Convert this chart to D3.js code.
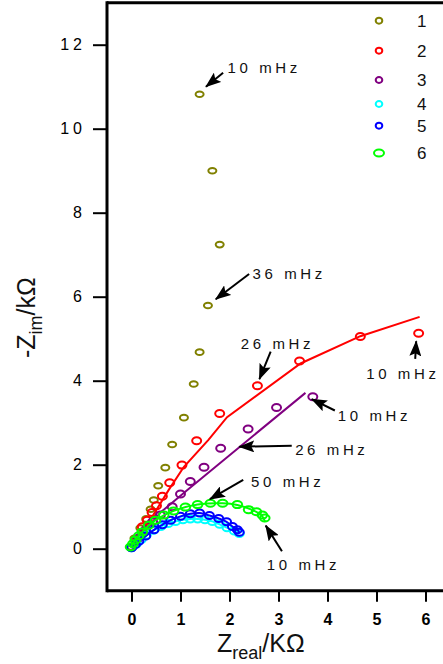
<!DOCTYPE html>
<html>
<head>
<meta charset="utf-8">
<script src="https://cdn.jsdelivr.net/npm/d3@7"></script>
<style>
body { margin: 0; background: #fff; }
svg { display: block; font-family: "Liberation Sans", Arial, sans-serif; }
</style>
</head>
<body>
<div id="chart"></div>
<script>
'use strict';

// legend / series
const seriesNames  = ['1', '2', '3', '4', '5', '6'];
const seriesColors = ['#808000', '#ff0000', '#800080', '#00ffff', '#0000ff', '#00ff00'];

// measured points [Zreal, -Zim] in kOhm
const s1Points = [[0, 0.04], [0.06, 0.25], [0.18, 0.49], [0.30, 0.71], [0.39, 0.94], [0.455, 1.16],
    [0.545, 1.5], [0.69, 1.93], [0.83, 2.48], [1.07, 3.12], [1.27, 3.92], [1.39, 4.68],
    [1.56, 5.79], [1.80, 7.24], [1.65, 9.0], [1.39, 10.82]];
const s2Points = [[0, 0.03], [0.1, 0.22], [0.22, 0.52], [0.32, 0.68], [0.42, 0.86], [0.51, 1.02],
    [0.63, 1.25], [0.78, 1.57], [1.03, 1.99], [1.33, 2.57], [1.80, 3.22], [2.57, 3.88],
    [3.43, 4.47], [4.67, 5.05], [5.86, 5.13]];
const s2Fit = [[0, 0.02], [0.2, 0.4], [0.39, 0.70], [0.76, 1.40], [1.07, 1.95], [1.57, 2.59],
    [1.95, 3.13], [3.45, 4.41], [4.67, 5.06], [5.88, 5.52]];
const s3Points = [[0, 0.03], [0.14, 0.25], [0.29, 0.45], [0.43, 0.64], [0.59, 0.80], [0.83, 1.0],
    [1.0, 1.30], [1.20, 1.60], [1.48, 1.94], [1.82, 2.39], [2.38, 2.85], [2.96, 3.36], [3.70, 3.62]];
const s3Fit = [[0, 0.02], [0.15, 0.25], [0.35, 0.52], [0.59, 0.86], [1.14, 1.40], [3.55, 3.71]];
const s4Points = [[0, 0.02], [0.1, 0.12], [0.2, 0.22], [0.3, 0.32], [0.45, 0.44], [0.6, 0.53],
    [0.75, 0.60], [0.9, 0.65], [1.05, 0.69], [1.2, 0.71], [1.35, 0.71], [1.5, 0.69],
    [1.65, 0.65], [1.8, 0.58], [1.95, 0.50], [2.1, 0.42], [2.2, 0.36]];
const s5Points = [[0, 0.02], [0.08, 0.1], [0.15, 0.18], [0.29, 0.30], [0.46, 0.45], [0.63, 0.57],
    [0.8, 0.68], [1.0, 0.77], [1.2, 0.83], [1.39, 0.85], [1.59, 0.79], [1.78, 0.72],
    [1.94, 0.64], [2.06, 0.53], [2.16, 0.45], [2.2, 0.39]];
const s6Points = [[-0.02, 0.04], [0.03, 0.12], [0.08, 0.21], [0.15, 0.31], [0.22, 0.40], [0.35, 0.56],
    [0.49, 0.68], [0.66, 0.80], [0.86, 0.90], [1.10, 0.99], [1.35, 1.05], [1.61, 1.08],
    [1.86, 1.08], [2.16, 1.05], [2.39, 0.93], [2.55, 0.88], [2.67, 0.80], [2.72, 0.73]];
const s6Fit = [[-0.02, 0.04], [0.08, 0.21], [0.22, 0.40], [0.49, 0.68], [0.86, 0.90], [1.35, 1.05],
    [1.86, 1.08], [2.16, 1.04], [2.45, 0.93], [2.65, 0.80], [2.73, 0.64]];

// axis ticks
const xMajor = [0, 1, 2, 3, 4, 5, 6];
const xMinor = [-0.5, 0.5, 1.5, 2.5, 3.5, 4.5, 5.5, 6.5];
const yMajor = [0, 2, 4, 6, 8, 10, 12];
const yMinor = [-1, 1, 3, 5, 7, 9, 11, 13];

// frequency annotations: label anchor, arrow tail, arrow tip (data units)
const noteText = ['10 mHz', '36 mHz', '26 mHz', '10 mHz', '10 mHz', '26 mHz', '50 mHz', '10 mHz'];
const noteAt   = [[1.96, 11.32], [2.47, 6.42], [2.23, 4.75], [4.79, 4.03], [4.21, 3.05], [3.34, 2.23], [2.44, 1.48], [2.76, -0.51]];
const noteFrom = [[1.87, 11.33], [2.40, 6.54], [2.84, 4.69], [5.79, 4.52], [4.15, 3.29], [3.27, 2.45], [2.28, 1.64], [3.07, -0.06]];
const noteTo   = [[1.52, 11.0], [1.72, 5.94], [2.61, 4.04], [5.81, 4.94], [3.68, 3.56], [2.20, 2.43], [1.60, 1.18], [2.74, 0.55]];

const W = 443, H = 664;
const svg = d3.select('#chart').append('svg')
    .attr('width', W)
    .attr('height', H);

const x = d3.scaleLinear().domain([-0.5, 6.4]).range([107, 107 + 49 * 6.9]);
const y = d3.scaleLinear().domain([-1, 13]).range([590.7, 2.7]);

// axes
const gx = svg.append('g').attr('transform', `translate(0,${y(-1)})`);
gx.call(d3.axisBottom(x).tickValues(xMinor).tickSize(6).tickFormat(''));
gx.call(d3.axisBottom(x).tickValues(xMajor).tickSize(11).tickPadding(12).tickFormat(d3.format('d')));
gx.selectAll('.domain').remove();
gx.selectAll('line').attr('stroke', '#000').attr('stroke-width', 2);
gx.selectAll('text').attr('font-size', 16).attr('font-weight', 'bold').attr('fill', '#000')
    .attr('font-family', '"Liberation Sans", Arial, sans-serif');

const gy = svg.append('g').attr('transform', `translate(${x(-0.5)},0)`);
gy.call(d3.axisLeft(y).tickValues(yMinor).tickSize(8).tickFormat(''));
gy.call(d3.axisLeft(y).tickValues(yMajor).tickSize(14).tickPadding(7).tickFormat(d3.format('d')));
gy.selectAll('.domain').remove();
gy.selectAll('line').attr('stroke', '#000').attr('stroke-width', 2);
gy.selectAll('text').attr('font-size', 16).attr('letter-spacing', '4px').attr('fill', '#000')
    .attr('font-family', '"Liberation Sans", Arial, sans-serif');

// frame lines
svg.append('line')
    .attr('x1', x(-0.5)).attr('x2', W).attr('y1', y(-1)).attr('y2', y(-1))
    .attr('stroke', '#000').attr('stroke-width', 3);
svg.append('line')
    .attr('x1', x(-0.5)).attr('x2', W).attr('y1', y(13)).attr('y2', y(13))
    .attr('stroke', '#000').attr('stroke-width', 3);
svg.append('line')
    .attr('x1', x(-0.5)).attr('x2', x(-0.5)).attr('y1', y(13) - 1.5).attr('y2', y(-1) + 1.5)
    .attr('stroke', '#000').attr('stroke-width', 3);

// series
const straight = d3.line().x(d => x(d[0])).y(d => y(d[1]));
const smooth = d3.line().x(d => x(d[0])).y(d => y(d[1])).curve(d3.curveCatmullRom.alpha(0.5));

const series = [
    {pts: s1Points, fit: null, line: null, rx: 4, ry: 2.8},
    {pts: s2Points, fit: s2Fit, line: straight, rx: 4.5, ry: 3.5},
    {pts: s3Points, fit: s3Fit, line: straight, rx: 4.5, ry: 3.5},
    {pts: s4Points, fit: s4Points, line: smooth, rx: 4.5, ry: 3.5},
    {pts: s5Points, fit: s5Points, line: smooth, rx: 4.5, ry: 3.5},
    {pts: s6Points, fit: s6Fit, line: smooth, rx: 4.8, ry: 3.5}
];

series.forEach(function(s, i) {
    const g = svg.append('g');
    if (s.fit) {
        g.append('path')
            .attr('d', s.line(s.fit))
            .attr('fill', 'none')
            .attr('stroke', seriesColors[i])
            .attr('stroke-width', 2);
    }
    g.selectAll('ellipse')
        .data(s.pts)
        .enter()
        .append('ellipse')
            .attr('cx', d => x(d[0]))
            .attr('cy', d => y(d[1]))
            .attr('rx', s.rx)
            .attr('ry', s.ry)
            .attr('fill', 'none')
            .attr('stroke', seriesColors[i])
            .attr('stroke-width', 2);
});

// legend
const legendY = [20.7, 50.7, 80, 104, 125.7, 153];
const lg = svg.append('g');
seriesNames.forEach(function(name, i) {
    lg.append('ellipse')
        .attr('cx', 379).attr('cy', legendY[i])
        .attr('rx', i === 5 ? 5 : 3.3).attr('ry', i === 5 ? 3.5 : 3)
        .attr('fill', 'none')
        .attr('stroke', seriesColors[i])
        .attr('stroke-width', 2);
    lg.append('text')
        .attr('x', 417).attr('y', legendY[i] + 6)
        .attr('font-size', 17)
        .attr('fill', '#111')
        .text(name);
});

// arrows
const defs = svg.append('defs');
defs.append('marker')
    .attr('id', 'head')
    .attr('viewBox', '0 0 16 12')
    .attr('refX', 15).attr('refY', 6)
    .attr('markerWidth', 16).attr('markerHeight', 12)
    .attr('markerUnits', 'userSpaceOnUse')
    .attr('orient', 'auto')
  .append('path')
    .attr('d', 'M0,0L16,6L0,12L3,6Z')
    .attr('fill', '#000');

noteText.forEach(function(t, i) {
    svg.append('line')
        .attr('x1', x(noteFrom[i][0])).attr('y1', y(noteFrom[i][1]))
        .attr('x2', x(noteTo[i][0])).attr('y2', y(noteTo[i][1]))
        .attr('stroke', '#000')
        .attr('stroke-width', 2)
        .attr('marker-end', 'url(#head)');
    svg.append('text')
        .attr('x', x(noteAt[i][0])).attr('y', y(noteAt[i][1]))
        .attr('font-size', 15)
        .attr('letter-spacing', '3.6px')
        .attr('fill', '#111')
        .text(t);
});

// axis titles
const xt = svg.append('text')
    .attr('x', 217).attr('y', 652)
    .attr('font-size', 25)
    .attr('fill', '#111');
xt.append('tspan').text('Z');
xt.append('tspan').attr('font-size', 18).attr('dy', 6.5).text('real');
xt.append('tspan').attr('dy', -6.5).text('/KΩ');

const yt = svg.append('text')
    .attr('transform', 'translate(35,358) rotate(-90)')
    .attr('font-size', 25)
    .attr('fill', '#111');
yt.append('tspan').text('-Z');
yt.append('tspan').attr('font-size', 18).attr('dy', 6.5).text('im');
yt.append('tspan').attr('dy', -6.5).text('/kΩ');
</script>
</body>
</html>
